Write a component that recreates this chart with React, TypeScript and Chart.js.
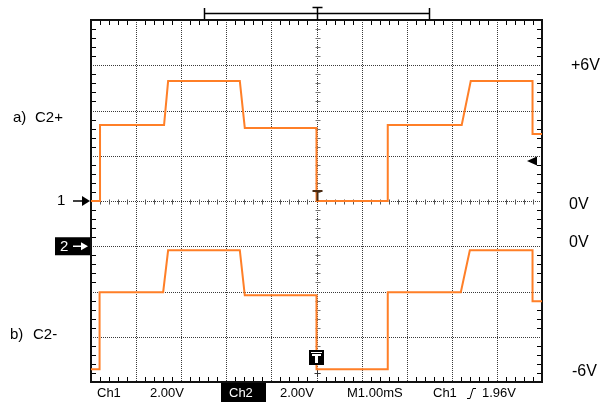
import React, { useEffect, useRef } from "react";
import { Chart, registerables } from "chart.js";
Chart.register(...registerables);

// Channel 1 (C2+) trace: time in ms, voltage in V
const TIME_A = [0, 0.2, 0.2, 1.62, 1.71, 3.3, 3.41, 5.0, 5.0, 6.58, 6.58, 8.22, 8.42, 9.79, 9.79, 10];
const VOLT_A = [0, 0, 3.36, 3.36, 5.3, 5.3, 3.23, 3.23, 0, 0, 3.36, 3.36, 5.3, 5.3, 2.96, 2.96];
// Channel 2 (C2-) trace
const TIME_B = [0, 0.19, 0.19, 1.6, 1.71, 3.3, 3.41, 5.0, 5.0, 6.58, 6.58, 8.2, 8.4, 9.79, 9.79, 10];
const VOLT_B = [-5.44, -5.44, -2.03, -2.03, -0.18, -0.18, -2.17, -2.17, -5.44, -5.44, -2.03, -2.03, -0.18, -0.18, -2.43, -2.43];
const CH2_OFFSET = -2; // Ch2 ground one division below centre (2 V/div)

const X_DIVS = [0, 1, 2, 3, 4, 5, 6, 7, 8, 9, 10];
const Y_DIVS = [-8, -6, -4, -2, 0, 2, 4, 6, 8];

const TRACE_LABELS = ["a)", "C2+", "b)", "C2-"];
const LEVEL_LABELS = ["+6V", "0V", "0V", "-6V"];
const STATUS_LABELS = ["Ch1", "2.00V", "Ch2", "2.00V", "M1.00mS", "Ch1", "1.96V"];

const ORANGE = "#ff7f27";
const FONT = '"Liberation Sans", Arial, sans-serif';

const scopePlugin = {
  id: "scope",
  beforeDraw(chart: any) {
    const ctx = chart.ctx;
    ctx.save();
    ctx.fillStyle = "#fff";
    ctx.fillRect(0, 0, chart.width, chart.height);
    ctx.restore();
  },
  beforeDatasetsDraw(chart: any) {
    const { ctx, chartArea: a } = chart;
    const x = chart.scales.x;
    const y = chart.scales.y;
    const line = (x1: number, y1: number, x2: number, y2: number) => {
      ctx.beginPath();
      ctx.moveTo(x1, y1);
      ctx.lineTo(x2, y2);
      ctx.stroke();
    };
    ctx.save();
    ctx.strokeStyle = "#3a3a3a";
    ctx.lineWidth = 1;
    ctx.setLineDash([1, 1]);
    X_DIVS.slice(1, -1).forEach((d) => {
      const px = Math.round(x.getPixelForValue(d)) + 0.5;
      line(px, a.top, px, a.bottom);
    });
    Y_DIVS.slice(1, -1).forEach((d) => {
      const py = Math.round(y.getPixelForValue(d)) + 0.5;
      line(a.left, py, a.right, py);
    });
    ctx.setLineDash([]);
    const cx = Math.round(x.getPixelForValue(5)) + 0.5;
    const cy = Math.round(y.getPixelForValue(0)) + 0.5;
    for (let k = 1; k < 50; k++) {
      if (k % 5 === 0) continue;
      const px = Math.round(x.getPixelForValue(k * 0.2)) + 0.5;
      ctx.strokeStyle = "#000";
      line(px, a.top, px, a.top + 5);
      line(px, a.bottom - 5, px, a.bottom);
      ctx.strokeStyle = "#555";
      line(px, cy - 2, px, cy + 3);
    }
    for (let k = 1; k < 40; k++) {
      if (k % 5 === 0) continue;
      const py = Math.round(y.getPixelForValue(-8 + k * 0.4)) + 0.5;
      ctx.strokeStyle = "#000";
      line(a.left, py, a.left + 5, py);
      line(a.right - 5, py, a.right, py);
      ctx.strokeStyle = "#777";
      line(cx - 2, py, cx + 3, py);
    }
    ctx.strokeStyle = "#111";
    ctx.lineWidth = 2;
    ctx.strokeRect(a.left, a.top, a.right - a.left, a.bottom - a.top);
    ctx.restore();
  },
  afterDatasetsDraw(chart: any) {
    const { ctx, chartArea: a } = chart;
    const x = chart.scales.x;
    const y = chart.scales.y;
    const line = (x1: number, y1: number, x2: number, y2: number) => {
      ctx.beginPath();
      ctx.moveTo(x1, y1);
      ctx.lineTo(x2, y2);
      ctx.stroke();
    };
    const tri = (pts: number[][]) => {
      ctx.beginPath();
      ctx.moveTo(pts[0][0], pts[0][1]);
      for (let i = 1; i < pts.length; i++) ctx.lineTo(pts[i][0], pts[i][1]);
      ctx.closePath();
      ctx.fill();
    };
    ctx.save();
    const cx = Math.round(x.getPixelForValue(5)) + 0.5;
    const g1 = y.getPixelForValue(0);
    const g2 = y.getPixelForValue(CH2_OFFSET);

    // top record bracket
    ctx.strokeStyle = "#000";
    ctx.lineWidth = 1.5;
    const bl = Math.round(x.getPixelForValue(2.5)) + 0.5;
    const br = Math.round(x.getPixelForValue(7.5)) + 0.5;
    line(bl, 13.5, br, 13.5);
    line(bl, 8, bl, 19);
    line(br, 8, br, 19);
    line(cx - 5, 7.5, cx + 5, 7.5);
    line(cx, 7.5, cx, a.top);

    // trigger position marker on centre line
    ctx.strokeStyle = "#4a2a12";
    ctx.lineWidth = 2;
    line(cx - 5, 191, cx + 5, 191);
    line(cx, 191, cx, g1);

    // Ch1 ground marker "1 ->"
    ctx.fillStyle = "#000";
    ctx.strokeStyle = "#000";
    ctx.lineWidth = 1.5;
    ctx.font = `15px ${FONT}`;
    ctx.textBaseline = "middle";
    ctx.textAlign = "left";
    ctx.fillText("1", 57, g1);
    line(73, g1, 83, g1);
    tri([[82, g1 - 5], [90, g1], [82, g1 + 5]]);

    // Ch2 ground marker box
    ctx.fillRect(55, g2 - 9, 35, 18);
    ctx.fillStyle = "#fff";
    ctx.strokeStyle = "#fff";
    ctx.fillText("2", 60, g2 + 0.5);
    line(73, g2, 82, g2);
    tri([[81, g2 - 4], [88, g2], [81, g2 + 4]]);

    // trigger level arrow on right
    ctx.fillStyle = "#000";
    tri([[527, 161], [537, 156.5], [537, 165.5]]);

    // bottom trigger "T" box
    ctx.fillRect(309, 350, 15, 15);
    ctx.fillStyle = "#fff";
    ctx.fillRect(311, 352, 11, 1);
    ctx.fillRect(312, 354, 9, 2);
    ctx.fillRect(315, 354, 3, 9);
    ctx.strokeStyle = "#333";
    ctx.lineWidth = 1;
    line(cx - 3, 373.5, cx + 3, 373.5);
    line(cx, 371, cx, 377);

    // labels
    ctx.fillStyle = "#000";
    ctx.font = `15px ${FONT}`;
    ctx.fillText(TRACE_LABELS[0], 13, 118);
    ctx.fillText(TRACE_LABELS[1], 35, 118);
    ctx.fillText(TRACE_LABELS[2], 10, 335);
    ctx.fillText(TRACE_LABELS[3], 33, 335);

    ctx.font = `16px ${FONT}`;
    ctx.fillText(LEVEL_LABELS[0], 571, 66);
    ctx.fillText(LEVEL_LABELS[1], 569, 205);
    ctx.fillText(LEVEL_LABELS[2], 569, 243);
    ctx.fillText(LEVEL_LABELS[3], 572, 372);

    // status bar
    ctx.font = `13px ${FONT}`;
    ctx.fillText(STATUS_LABELS[0], 97, 393);
    ctx.fillText(STATUS_LABELS[1], 150, 393);
    ctx.fillRect(221, a.bottom + 1, 45, 20);
    ctx.fillStyle = "#fff";
    ctx.fillText(STATUS_LABELS[2], 229, 393);
    ctx.fillStyle = "#000";
    ctx.fillText(STATUS_LABELS[3], 280, 393);
    ctx.fillText(STATUS_LABELS[4], 347, 393);
    ctx.fillText(STATUS_LABELS[5], 433, 393);
    ctx.fillText(STATUS_LABELS[6], 482, 393);
    // rising-edge symbol
    ctx.strokeStyle = "#000";
    ctx.lineWidth = 1;
    ctx.beginPath();
    ctx.moveTo(467, 398.5);
    ctx.lineTo(470, 398.5);
    ctx.lineTo(473, 388.5);
    ctx.lineTo(476, 388.5);
    ctx.stroke();
    ctx.restore();
  },
};

export default function App() {
  const ref = useRef<HTMLCanvasElement>(null);
  useEffect(() => {
    if (!ref.current) return;
    const dataA = TIME_A.map((t, i) => ({ x: t, y: VOLT_A[i] }));
    const dataB = TIME_B.map((t, i) => ({ x: t, y: VOLT_B[i] + CH2_OFFSET }));
    const chart = new Chart(ref.current, {
      type: "scatter",
      data: {
        datasets: [
          { data: dataA, showLine: true, borderColor: ORANGE, borderWidth: 2, pointRadius: 0, tension: 0 },
          { data: dataB, showLine: true, borderColor: ORANGE, borderWidth: 2, pointRadius: 0, tension: 0 },
        ],
      },
      options: {
        animation: false,
        responsive: false,
        devicePixelRatio: 1,
        layout: { padding: { left: 91, right: 59, top: 20, bottom: 20 } },
        plugins: { legend: { display: false }, tooltip: { enabled: false } },
        scales: {
          x: { type: "linear", min: 0, max: 10, display: false },
          y: { type: "linear", min: -8, max: 8, display: false },
        },
      },
      plugins: [scopePlugin],
    });
    return () => chart.destroy();
  }, []);
  return (
    <div style={{ position: "fixed", left: 0, top: 0, width: 601, height: 402 }}>
      <canvas ref={ref} width={601} height={402} style={{ display: "block" }} />
    </div>
  );
}
